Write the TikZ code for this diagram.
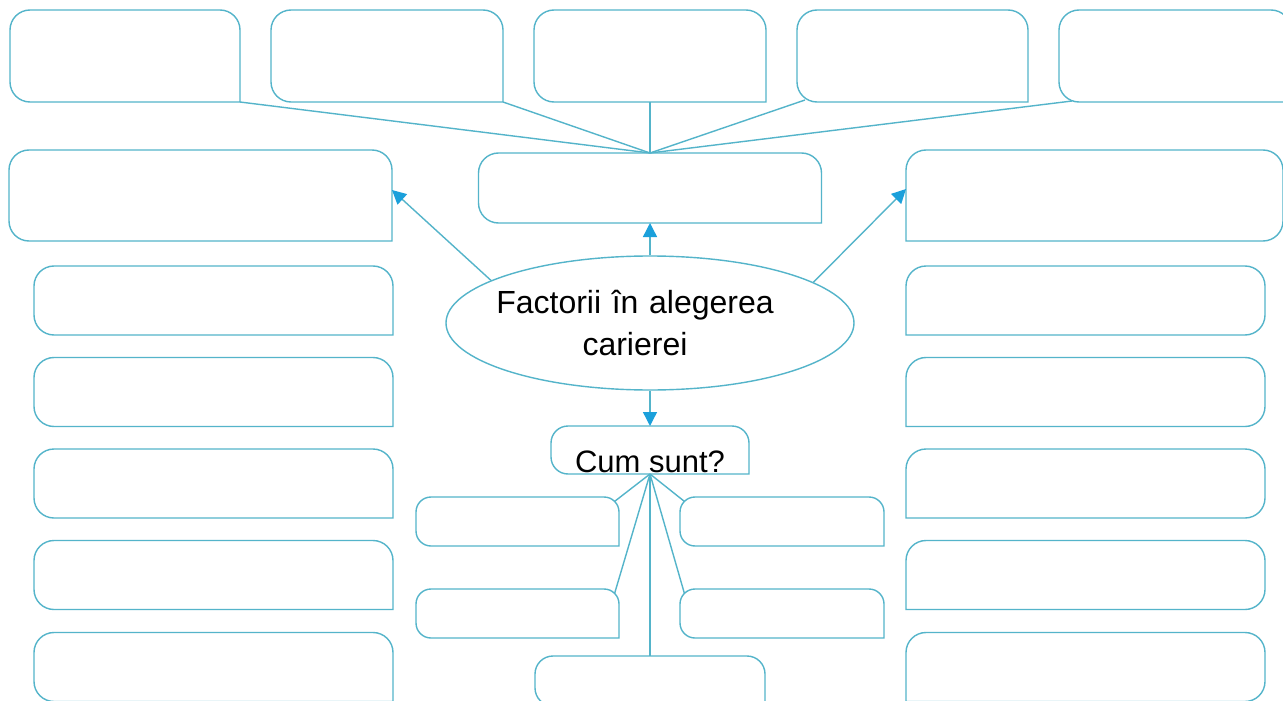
\documentclass[tikz,border=0pt]{standalone}
\usepackage{fontspec}
\setmainfont{Liberation Sans}
\usetikzlibrary{arrows.meta,shapes.geometric,calc}
\definecolor{boxc}{RGB}{84,180,202}
\definecolor{arrc}{RGB}{27,160,219}
\newcommand\boxSE[2][20pt]{\draw[boxline,rounded corners=#1] (#2.south east) -- (#2.north east) -- (#2.north west) -- (#2.south west) -- (#2.south east);}
\newcommand\boxSW[2][20pt]{\draw[boxline,rounded corners=#1] (#2.south west) -- (#2.south east) -- (#2.north east) -- (#2.north west) -- (#2.south west);}
\begin{document}
\begin{tikzpicture}[x=1pt,y=-1pt,
  area/.style={rectangle,inner sep=0pt,outer sep=0pt},
  boxline/.style={draw=boxc,line width=1.4pt,line cap=rect},
  link/.style={draw=boxc,line width=1.4pt},
  arr/.style={draw=boxc,line width=1.4pt,-{Triangle[length=14pt,width=14pt,color=arrc]}}]
\useasboundingbox (0,0) rectangle (1283,701);
\fill[white] (0,0) rectangle (1283,701);
\clip (0,0) rectangle (1283,701);
% top row
\node[area,minimum width=230pt,minimum height=92pt] (t1) at (125,56) {};
\node[area,minimum width=232pt,minimum height=92pt] (t2) at (387,56) {};
\node[area,minimum width=232pt,minimum height=92pt] (t3) at (650,56) {};
\node[area,minimum width=231pt,minimum height=92pt] (t4) at (912.5,56) {};
\node[area,minimum width=232pt,minimum height=92pt] (t5) at (1175,56) {};
% second row
\node[area,minimum width=343pt,minimum height=70pt] (m) at (650,188) {};
\node[area,minimum width=383pt,minimum height=91pt] (l0) at (200.5,195.5) {};
\node[area,minimum width=377pt,minimum height=91pt] (r0) at (1094.5,195.5) {};
% columns
\foreach \i/\y in {1/300.5,2/392,3/483.5,4/575,5/667}{
  \node[area,minimum width=359pt,minimum height=69pt] (l\i) at (213.5,\y) {};
  \node[area,minimum width=359pt,minimum height=69pt] (r\i) at (1085.5,\y) {};
}
% centre
\node[ellipse,draw=boxc,line width=1.4pt,inner sep=0pt,minimum width=408pt,minimum height=134pt,
  text width=270pt,align=center,font=\fontsize{32}{42}\selectfont] (e) at (650,323)
  {\hspace*{-30pt}Factorii în alegerea\\\hspace*{-30pt}carierei};
\node[area,minimum width=198pt,minimum height=48pt,text height=44pt,text depth=0pt,
  font=\fontsize{31}{37}\selectfont] (c) at (650,450) {Cum sunt?};
\node[area,minimum width=203pt,minimum height=49pt] (sl1) at (517.5,521.5) {};
\node[area,minimum width=203pt,minimum height=49pt] (sl2) at (517.5,613.5) {};
\node[area,minimum width=204pt,minimum height=49pt] (sr1) at (782,521.5) {};
\node[area,minimum width=204pt,minimum height=49pt] (sr2) at (782,613.5) {};
\node[area,minimum width=230pt,minimum height=50pt] (sb) at (650,681) {};
% box outlines
\foreach \n in {t1,t2,t3,t4,t5,m,l0,l1,l2,l3,l4,l5}{\boxSE{\n}}
\foreach \n in {r0,r1,r2,r3,r4,r5}{\boxSW{\n}}
\boxSE[17pt]{c}
\foreach \n in {sl1,sl2,sr1,sr2}{\boxSE[15pt]{\n}}
\boxSE[18pt]{sb}
% top fan
\draw[link] (t1.south east) -- (m.north);
\draw[link] (t2.south east) -- (m.north);
\draw[link] (t3.south) -- (m.north);
\draw[link] ($(t4.south west)+(8,-2)$) -- (m.north);
\draw[link] ($(t5.south west)+(13,-1)$) -- (m.north);
% arrows
\draw[arr] (e.north) -- (m.south);
\draw[arr] (e.165) -- ($(l0.east)+(0,-5.5)$);
\draw[arr] (e.14) -- ($(r0.west)+(0,-6.5)$);
\draw[arr] (e.south) -- (c.north);
% bottom fan
\draw[link] (c.south) -- ($(sl1.north east)+(-4.4,4.4)$);
\draw[link] (c.south) -- ($(sl2.north east)+(-4.4,4.4)$);
\draw[link] (c.south) -- ($(sr1.north west)+(4.4,4.4)$);
\draw[link] (c.south) -- ($(sr2.north west)+(4.4,4.4)$);
\draw[link] (c.south) -- (sb.north);
\end{tikzpicture}
\end{document}
